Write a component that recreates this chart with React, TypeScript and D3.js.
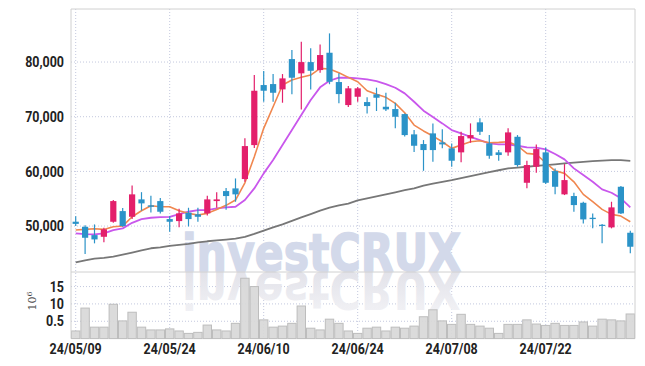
import React from "react";
import * as d3 from "d3";

const opens = [50800,49870,48350,48040,50790,52740,51700,54880,53790,54570,51280,50910,52440,52140,52320,54570,56400,56890,58600,64810,75790,75970,75000,80540,77930,79990,78530,81700,76340,72130,73650,72680,74090,71820,71400,70480,66770,65000,66950,65300,64210,63480,66040,68970,65120,63480,63480,66330,57920,60850,63480,60060,55800,55490,54260,51520,50240,49760,57190,48780];
const highs = [51800,50130,50300,49690,54750,53290,57440,56200,55560,55130,51830,53170,53350,53350,55560,56200,56950,58710,66040,77620,78350,77800,77800,82190,83700,82500,83230,85240,77930,75620,75440,73540,75310,74380,72550,70600,67560,65730,68780,67690,65120,67250,68780,69700,66640,63900,67870,66640,61940,64940,64370,60550,61340,56090,54450,52320,50370,54450,57310,49140];
const lows = [50000,44880,46840,47020,50600,49880,51280,52830,52500,52280,48960,49800,49930,50790,51950,53350,52990,54450,58100,64260,72740,72740,72560,74090,71340,75000,78040,75940,72440,71770,72750,70610,71040,71030,67870,66400,63530,60110,61760,64210,60860,61650,65240,66640,62310,61950,62860,60860,56900,59750,57680,55800,55670,52620,50490,49580,46840,49580,52200,45010];
const closes = [50400,47860,47560,49400,54570,50000,55800,54150,53530,52620,50790,52320,51280,51700,54880,54880,55490,55800,64630,74750,74750,74380,77010,77130,79990,78400,81280,76390,74140,75190,75190,71950,73470,71340,69990,66640,64690,63900,63900,64940,61950,66460,66640,67250,62860,62990,67130,61160,61160,64080,57920,57190,58410,53840,51220,51280,50060,53420,52320,46220];

const maShort = [49270,49390,49510,49390,49870,50000,51700,52800,53710,53530,53530,52800,52320,52010,52320,53050,53790,54760,57920,62670,67870,71820,75790,76700,77200,77620,78840,78720,78040,77200,76390,74750,74090,73540,72440,70720,68470,67400,66460,65420,64210,64810,65420,65600,65240,65300,65420,64690,63300,63110,61580,60110,59640,58100,55800,54450,53050,52140,51830,50790];
const maMid = [48660,48540,48480,48660,49270,49580,50600,51280,51520,51650,51700,52200,52620,52930,52930,53240,53420,53530,54760,56890,59640,62070,64810,67560,70300,73050,75370,76580,77130,77130,77010,76820,76520,75970,75300,74270,72740,71100,69940,68780,67560,66950,66330,65730,65120,64940,64940,64690,64390,64330,64030,63170,62200,60550,59330,58100,56710,56090,55070,53420];
const maLong = [43360,43730,44060,44180,44420,44770,45150,45570,45940,46120,46380,46560,46740,47020,47220,47380,47530,47710,48020,48570,49180,49760,50310,50950,51590,52190,52830,53370,53790,54120,54700,55070,55430,55800,56180,56570,56910,57410,57770,58100,58410,58780,59150,59510,59880,60210,60540,60700,60850,61010,61160,61300,61450,61600,61740,61890,61960,62050,62050,61940];

const volumes = [2.2,8.8,3.3,3.3,9.9,5.1,7.6,3.3,2.5,2.5,2.8,2.2,1.5,1.8,3.9,2.5,2.2,4.4,17.4,15.0,5.4,3.3,3.6,4.4,9.4,3.0,2.5,5.6,4.4,2.2,1.5,3.0,3.3,2.2,3.3,3.0,3.6,6.3,8.3,5.1,4.1,7.0,4.1,3.6,3.0,1.5,4.1,4.1,5.4,4.2,3.8,4.4,3.8,3.8,4.8,3.6,5.6,5.4,5.1,7.1];

const priceTicks = [50000, 60000, 70000, 80000];
const volTicks = [5, 10, 15];
const volTickLabels = ["0.5", "10", "15"];
const dateTickIndex = [0, 10, 20, 30, 40, 50];
const dateTickLabels = ["24/05/09", "24/05/24", "24/06/10", "24/06/24", "24/07/08", "24/07/22"];
const watermark = "investCRUX";

const W = 645, H = 366;
const L = 71, R = 635, T = 9, MID = 272, B = 338.6;
const UP = "#e31f6b";
const DOWN = "#2b93c8";
const GRID = "#c3c8de";
const BORDER = "#d0d0d0";
const LABEL_FONT = "Roboto, 'Liberation Sans', sans-serif";
const SQ = 0.86;

function Label({ x, y, anchor, children, dy }: { x: number; y: number; anchor: string; children: any; dy?: string }) {
  return (
    <text transform={`translate(${x},${y}) scale(${SQ},1)`} dy={dy} textAnchor={anchor}
      fontFamily={LABEL_FONT} fontWeight="bold" fontSize={14.5} fill="#222">{children}</text>
  );
}

export default function App() {
  const idx = d3.range(opens.length);
  const x = d3.scaleBand<number>().domain(idx).range([L, R]).padding(0);
  const bw = x.bandwidth();
  const cx = (i: number) => (x(i) as number) + bw / 2;
  const y = d3.scaleLinear().domain([41600, 89700]).range([MID, T]);
  const yv = d3.scaleLinear().domain([0, 19.2]).range([B, MID]);
  const line = (vals: number[]) =>
    d3.line<number>().x((_, i) => cx(i)).y((v) => y(v))(vals) || "";
  const bodyW = bw * 0.66;

  return (
    <svg width={W} height={H} style={{ position: "absolute", left: 0, top: 0, background: "#fff" }}>
      <defs>
        <linearGradient id="refl" x1="0" y1="0" x2="0" y2="1">
          <stop offset="0" stopColor="#f4f4f7" />
          <stop offset="1" stopColor="#dedee6" />
        </linearGradient>
        <clipPath id="plotclip">
          <rect x={L} y={T} width={R - L} height={B - T} />
        </clipPath>
        <text id="wm" x={182} y={MID - 1} fontFamily="'DejaVu Sans', sans-serif" fontWeight="bold" fontSize={52}
          textLength={279} lengthAdjust="spacingAndGlyphs">{watermark}</text>
      </defs>
      <rect x={0} y={0} width={W} height={H} fill="#fff" />

      {/* grid */}
      {priceTicks.map((t) => (
        <line key={"hp" + t} x1={L} x2={R} y1={y(t)} y2={y(t)} stroke={GRID} strokeDasharray="1,2" />
      ))}
      {volTicks.map((t) => (
        <line key={"hv" + t} x1={L} x2={R} y1={yv(t)} y2={yv(t)} stroke={GRID} strokeDasharray="1,2" />
      ))}
      {dateTickIndex.map((i) => (
        <line key={"vg" + i} x1={cx(i)} x2={cx(i)} y1={T} y2={B} stroke={GRID} strokeDasharray="1,2" />
      ))}

      {/* watermark and its reflection */}
      <use href="#wm" fill="#d3d9ea" stroke="#d3d9ea" strokeWidth={1.5} />
      <use href="#wm" transform={`translate(0,${2 * MID - 1}) scale(1,-1)`} fill="url(#refl)" />

      {/* volume bars */}
      {volumes.map((v, i) => (
        <rect key={"v" + i} x={(x(i) as number) + 0.5} y={yv(v)} width={bw - 1} height={B - yv(v)}
          fill="#d8d8d8" fillOpacity={0.92} stroke="#bdbdbd" strokeWidth={1} />
      ))}

      {/* borders */}
      <line x1={L} x2={R} y1={T} y2={T} stroke={BORDER} />
      <line x1={L} x2={L} y1={T} y2={B} stroke={BORDER} />
      <line x1={R} x2={R} y1={T} y2={B} stroke={BORDER} />
      <line x1={L} x2={R} y1={MID} y2={MID} stroke={BORDER} />

      {/* MA lines */}
      <g clipPath="url(#plotclip)" fill="none" strokeLinejoin="round">
        <path d={line(maLong)} stroke="#777" strokeWidth={1.8} />
        <path d={line(maMid)} stroke="#c957ec" strokeWidth={1.8} />
        <path d={line(maShort)} stroke="#f0874f" strokeWidth={1.6} />
      </g>

      {/* candles */}
      {idx.map((i) => {
        const up = closes[i] >= opens[i];
        const col = up ? UP : DOWN;
        const top = y(Math.max(opens[i], closes[i]));
        const bot = y(Math.min(opens[i], closes[i]));
        return (
          <g key={"c" + i}>
            <line x1={cx(i)} x2={cx(i)} y1={y(highs[i])} y2={y(lows[i])} stroke={col} strokeWidth={1.2} />
            <rect x={cx(i) - bodyW / 2} y={top} width={bodyW} height={Math.max(1.2, bot - top)} fill={col} />
          </g>
        );
      })}

      {/* y labels */}
      {priceTicks.map((t) => (
        <Label key={"pl" + t} x={64} y={y(t)} dy="0.36em" anchor="end">{d3.format(",")(t)}</Label>
      ))}
      {volTicks.map((t, k) => (
        <Label key={"vl" + t} x={64} y={yv(t)} dy="0.36em" anchor="end">{volTickLabels[k]}</Label>
      ))}
      <text transform={`translate(36,301) rotate(-90)`} textAnchor="middle" fontFamily="'DejaVu Serif', serif"
        fontSize={11} fill="#444">10<tspan dy={-4} fontSize={8}>6</tspan></text>

      {/* date labels */}
      {dateTickIndex.map((i, k) => (
        <Label key={"dl" + i} x={cx(i)} y={354} anchor="middle">{dateTickLabels[k]}</Label>
      ))}
    </svg>
  );
}
